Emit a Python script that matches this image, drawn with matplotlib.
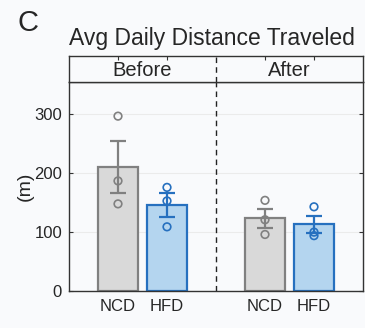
import matplotlib
matplotlib.use("Agg")
import matplotlib.pyplot as plt
import numpy as np

plt.rcParams['font.family'] = ['Liberation Sans', 'DejaVu Sans']

groups = ["NCD", "HFD", "NCD", "HFD"]
periods = ["Before", "After"]
means = [211, 146, 124, 113]
err_lo = [167, 126, 107, 98]
err_hi = [255, 166, 140, 128]
points = [[297, 187, 148], [176, 153, 109], [154, 121, 96], [143, 100, 94]]
positions = [1, 2, 4, 5]

fills = ["#d9d9d9", "#b4d5ef", "#d9d9d9", "#b4d5ef"]
edges = ["#808080", "#2670bf", "#808080", "#2670bf"]

bg = "#f9fafc"
fig = plt.figure(figsize=(3.65, 3.28), dpi=100, facecolor=bg)
ax = fig.add_axes([69/365, 37/328, 294/365, 209/328], facecolor=bg)
hax = fig.add_axes([69/365, 246/328, 294/365, 26/328], facecolor=bg)

for i, x in enumerate(positions):
    ax.bar(x, means[i], width=0.82, color=fills[i], edgecolor=edges[i], linewidth=1.6, zorder=2)
    ax.errorbar(x, means[i], yerr=[[means[i]-err_lo[i]], [err_hi[i]-means[i]]],
                color=edges[i], capsize=6, capthick=1.6, elinewidth=1.6, zorder=3, fmt='none')
    ax.scatter([x]*len(points[i]), points[i], s=30, facecolors='none', edgecolors=edges[i],
               linewidths=1.2, zorder=4)

ax.axvline(3, color='#222222', linestyle=(0, (4, 3)), linewidth=1.0, zorder=1)
ax.set_xlim(0, 6)
ax.set_ylim(0, 355)
ax.set_yticks([0, 100, 200, 300])
ax.set_xticks(positions)
ax.set_xticklabels(groups)
ax.grid(axis='y', color='#ebebeb', linewidth=0.8, zorder=0)
ax.set_axisbelow(True)
ax.tick_params(direction='in', length=3, labelsize=12, colors='#333333', right=True, top=False,
               width=0.8)
ax.tick_params(axis='both', labelcolor='#262626')
ax.tick_params(axis='x', pad=6, labelsize=12)
ax.tick_params(axis='y', pad=5)
for s in ax.spines.values():
    s.set_color('#333333')
    s.set_linewidth(1.0)
ax.set_ylabel("(m)", fontsize=14, color='#262626', labelpad=0)

hax.set_xlim(0, 6)
hax.set_ylim(0, 1)
hax.axvline(3, color='#222222', linestyle=(0, (4, 3)), linewidth=1.0)
hax.set_xticks(positions)
hax.set_xticklabels([])
hax.set_yticks([])
hax.tick_params(axis='x', direction='in', length=3, top=True, bottom=False, colors='#333333', width=0.8)
for s in hax.spines.values():
    s.set_color('#333333')
    s.set_linewidth(1.0)
hax.text(1.5, 0.45, periods[0], ha='center', va='center', fontsize=14.5, color='#262626')
hax.text(4.5, 0.45, periods[1], ha='center', va='center', fontsize=14.5, color='#262626')

fig.text(212/365, 1 - 39/328, "Avg Daily Distance Traveled", ha='center', va='center',
         fontsize=16.5, color='#262626')
fig.text(28/365, 1 - 23/328, "C", ha='center', va='center', fontsize=21, color='#262626')

fig.savefig("out.png", dpi=100, facecolor=bg)
